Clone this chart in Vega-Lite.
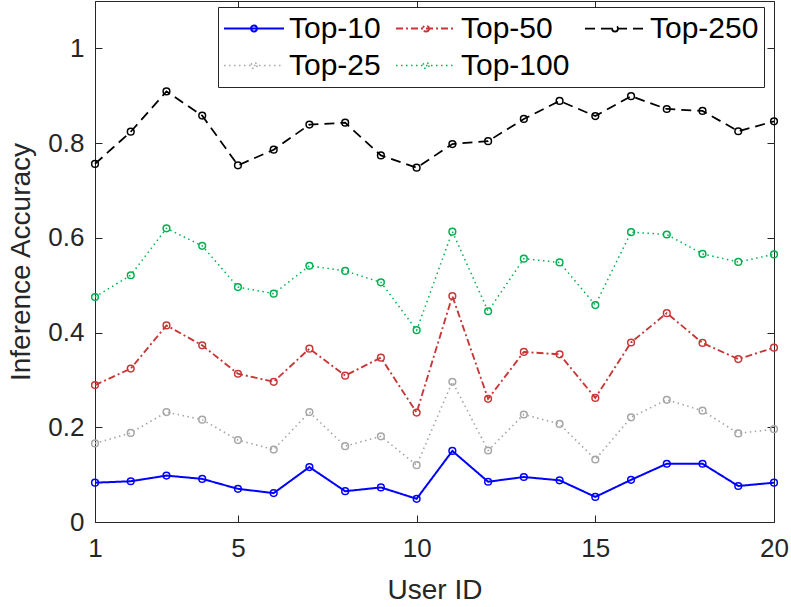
{
  "$schema": "https://vega.github.io/schema/vega-lite/v6.json",
  "width": 679,
  "height": 521,
  "autosize": {"type": "none"},
  "padding": {"left": 95, "top": 1, "right": 17, "bottom": 85},
  "background": "#ffffff",
  "config": {
    "view": {"stroke": "#262626", "strokeWidth": 1},
    "font": "Liberation Sans",
    "axis": {
      "grid": false,
      "domain": false,
      "labelFlush": false,
      "labelOverlap": false,
      "tickColor": "#262626",
      "tickSize": -7,
      "tickWidth": 1,
      "labelColor": "#262626",
      "labelFont": "Liberation Sans",
      "labelFontSize": 26,
      "labelFontWeight": "normal",
      "titleColor": "#262626",
      "titleFont": "Liberation Sans",
      "titleFontSize": 28,
      "titleFontWeight": "normal"
    }
  },
  "datasets": {
    "accuracy": [
      {"user": 1, "series": "Top-10", "acc": 0.083}, {"user": 2, "series": "Top-10", "acc": 0.086}, {"user": 3, "series": "Top-10", "acc": 0.098}, {"user": 4, "series": "Top-10", "acc": 0.091}, {"user": 5, "series": "Top-10", "acc": 0.070},
      {"user": 6, "series": "Top-10", "acc": 0.061}, {"user": 7, "series": "Top-10", "acc": 0.116}, {"user": 8, "series": "Top-10", "acc": 0.065}, {"user": 9, "series": "Top-10", "acc": 0.073}, {"user": 10, "series": "Top-10", "acc": 0.049},
      {"user": 11, "series": "Top-10", "acc": 0.150}, {"user": 12, "series": "Top-10", "acc": 0.085}, {"user": 13, "series": "Top-10", "acc": 0.095}, {"user": 14, "series": "Top-10", "acc": 0.088}, {"user": 15, "series": "Top-10", "acc": 0.053},
      {"user": 16, "series": "Top-10", "acc": 0.089}, {"user": 17, "series": "Top-10", "acc": 0.123}, {"user": 18, "series": "Top-10", "acc": 0.123}, {"user": 19, "series": "Top-10", "acc": 0.076}, {"user": 20, "series": "Top-10", "acc": 0.083},

      {"user": 1, "series": "Top-25", "acc": 0.166}, {"user": 2, "series": "Top-25", "acc": 0.188}, {"user": 3, "series": "Top-25", "acc": 0.232}, {"user": 4, "series": "Top-25", "acc": 0.216}, {"user": 5, "series": "Top-25", "acc": 0.173},
      {"user": 6, "series": "Top-25", "acc": 0.153}, {"user": 7, "series": "Top-25", "acc": 0.232}, {"user": 8, "series": "Top-25", "acc": 0.160}, {"user": 9, "series": "Top-25", "acc": 0.181}, {"user": 10, "series": "Top-25", "acc": 0.120},
      {"user": 11, "series": "Top-25", "acc": 0.296}, {"user": 12, "series": "Top-25", "acc": 0.151}, {"user": 13, "series": "Top-25", "acc": 0.227}, {"user": 14, "series": "Top-25", "acc": 0.207}, {"user": 15, "series": "Top-25", "acc": 0.132},
      {"user": 16, "series": "Top-25", "acc": 0.221}, {"user": 17, "series": "Top-25", "acc": 0.258}, {"user": 18, "series": "Top-25", "acc": 0.235}, {"user": 19, "series": "Top-25", "acc": 0.187}, {"user": 20, "series": "Top-25", "acc": 0.196},

      {"user": 1, "series": "Top-50", "acc": 0.289}, {"user": 2, "series": "Top-50", "acc": 0.324}, {"user": 3, "series": "Top-50", "acc": 0.415}, {"user": 4, "series": "Top-50", "acc": 0.373}, {"user": 5, "series": "Top-50", "acc": 0.313},
      {"user": 6, "series": "Top-50", "acc": 0.296}, {"user": 7, "series": "Top-50", "acc": 0.366}, {"user": 8, "series": "Top-50", "acc": 0.309}, {"user": 9, "series": "Top-50", "acc": 0.347}, {"user": 10, "series": "Top-50", "acc": 0.231},
      {"user": 11, "series": "Top-50", "acc": 0.477}, {"user": 12, "series": "Top-50", "acc": 0.260}, {"user": 13, "series": "Top-50", "acc": 0.359}, {"user": 14, "series": "Top-50", "acc": 0.354}, {"user": 15, "series": "Top-50", "acc": 0.262},
      {"user": 16, "series": "Top-50", "acc": 0.379}, {"user": 17, "series": "Top-50", "acc": 0.441}, {"user": 18, "series": "Top-50", "acc": 0.378}, {"user": 19, "series": "Top-50", "acc": 0.344}, {"user": 20, "series": "Top-50", "acc": 0.368},

      {"user": 1, "series": "Top-100", "acc": 0.475}, {"user": 2, "series": "Top-100", "acc": 0.521}, {"user": 3, "series": "Top-100", "acc": 0.620}, {"user": 4, "series": "Top-100", "acc": 0.583}, {"user": 5, "series": "Top-100", "acc": 0.496},
      {"user": 6, "series": "Top-100", "acc": 0.482}, {"user": 7, "series": "Top-100", "acc": 0.541}, {"user": 8, "series": "Top-100", "acc": 0.530}, {"user": 9, "series": "Top-100", "acc": 0.506}, {"user": 10, "series": "Top-100", "acc": 0.405},
      {"user": 11, "series": "Top-100", "acc": 0.613}, {"user": 12, "series": "Top-100", "acc": 0.445}, {"user": 13, "series": "Top-100", "acc": 0.556}, {"user": 14, "series": "Top-100", "acc": 0.548}, {"user": 15, "series": "Top-100", "acc": 0.458},
      {"user": 16, "series": "Top-100", "acc": 0.612}, {"user": 17, "series": "Top-100", "acc": 0.607}, {"user": 18, "series": "Top-100", "acc": 0.566}, {"user": 19, "series": "Top-100", "acc": 0.549}, {"user": 20, "series": "Top-100", "acc": 0.565},

      {"user": 1, "series": "Top-250", "acc": 0.756}, {"user": 2, "series": "Top-250", "acc": 0.824}, {"user": 3, "series": "Top-250", "acc": 0.909}, {"user": 4, "series": "Top-250", "acc": 0.858}, {"user": 5, "series": "Top-250", "acc": 0.753},
      {"user": 6, "series": "Top-250", "acc": 0.786}, {"user": 7, "series": "Top-250", "acc": 0.839}, {"user": 8, "series": "Top-250", "acc": 0.843}, {"user": 9, "series": "Top-250", "acc": 0.774}, {"user": 10, "series": "Top-250", "acc": 0.748},
      {"user": 11, "series": "Top-250", "acc": 0.798}, {"user": 12, "series": "Top-250", "acc": 0.804}, {"user": 13, "series": "Top-250", "acc": 0.851}, {"user": 14, "series": "Top-250", "acc": 0.889}, {"user": 15, "series": "Top-250", "acc": 0.857},
      {"user": 16, "series": "Top-250", "acc": 0.899}, {"user": 17, "series": "Top-250", "acc": 0.872}, {"user": 18, "series": "Top-250", "acc": 0.868}, {"user": 19, "series": "Top-250", "acc": 0.825}, {"user": 20, "series": "Top-250", "acc": 0.846}
    ]
  },
  "data": {"name": "accuracy"},
  "resolve": {"axis": {"x": "independent", "y": "independent"}},
  "layer": [
    {
      "mark": {"type": "line", "strokeCap": "butt", "strokeJoin": "miter"},
      "encoding": {
        "x": {
          "field": "user", "type": "quantitative",
          "scale": {"domain": [1, 20], "nice": false, "zero": false},
          "axis": {"values": [1, 5, 10, 15, 20], "title": "User ID", "labelPadding": 20, "titlePadding": 15, "orient": "bottom"}
        },
        "y": {
          "field": "acc", "type": "quantitative",
          "scale": {"domain": [0, 1.1], "nice": false},
          "axis": {"values": [0, 0.2, 0.4, 0.6, 0.8, 1], "format": "~g", "title": "Inference Accuracy", "labelPadding": 18, "titlePadding": 12, "orient": "left"}
        },
        "color": {
          "field": "series", "type": "nominal",
          "scale": {
            "domain": ["Top-10", "Top-50", "Top-250", "Top-25", "Top-100"],
            "range": ["#0000ff", "#c83737", "#000000", "#a6a6a6", "#00b04f"]
          },
          "legend": {
            "title": null,
            "orient": "none",
            "legendX": 123,
            "legendY": 6,
            "direction": "horizontal",
            "columns": 3,
            "columnPadding": 14,
            "rowPadding": 4,
            "padding": 5,
            "clipHeight": 33,
            "fillColor": "#ffffff",
            "strokeColor": "#262626",
            "symbolType": "M-1,0L1,0M0.1,0A0.1,0.1,0,1,1,-0.1,0A0.1,0.1,0,1,1,0.1,0",
            "symbolSize": 3600,
            "symbolStrokeWidth": 1.5,
            "labelFont": "Liberation Sans",
            "labelFontSize": 30,
            "labelColor": "#000000",
            "labelOffset": 4,
            "labelLimit": 300
          }
        },
        "strokeDash": {
          "field": "series", "type": "nominal",
          "scale": {
            "domain": ["Top-10", "Top-50", "Top-250", "Top-25", "Top-100"],
            "range": [[1, 0], [7, 3, 2, 3], [10, 6], [1.5, 3.5], [1.5, 3.5]]
          }
        },
        "strokeWidth": {
          "field": "series", "type": "nominal",
          "scale": {
            "domain": ["Top-10", "Top-50", "Top-250", "Top-25", "Top-100"],
            "range": [2, 1.5, 1.5, 1.5, 2]
          },
          "legend": null
        },
        "detail": {"field": "series"}
      }
    },
    {
      "mark": {"type": "point", "shape": "circle", "filled": false, "size": 45, "strokeWidth": 1.5, "opacity": 1},
      "encoding": {
        "x": {
          "field": "user", "type": "quantitative",
          "axis": {"values": [1, 5, 10, 15, 20], "orient": "top", "labels": false, "title": null}
        },
        "y": {
          "field": "acc", "type": "quantitative",
          "axis": {"values": [0, 0.2, 0.4, 0.6, 0.8, 1], "orient": "right", "labels": false, "title": null}
        },
        "stroke": {
          "field": "series", "type": "nominal",
          "scale": {
            "domain": ["Top-10", "Top-50", "Top-250", "Top-25", "Top-100"],
            "range": ["#0000ff", "#c83737", "#000000", "#a6a6a6", "#00b04f"]
          },
          "legend": null
        }
      }
    }
  ]
}
